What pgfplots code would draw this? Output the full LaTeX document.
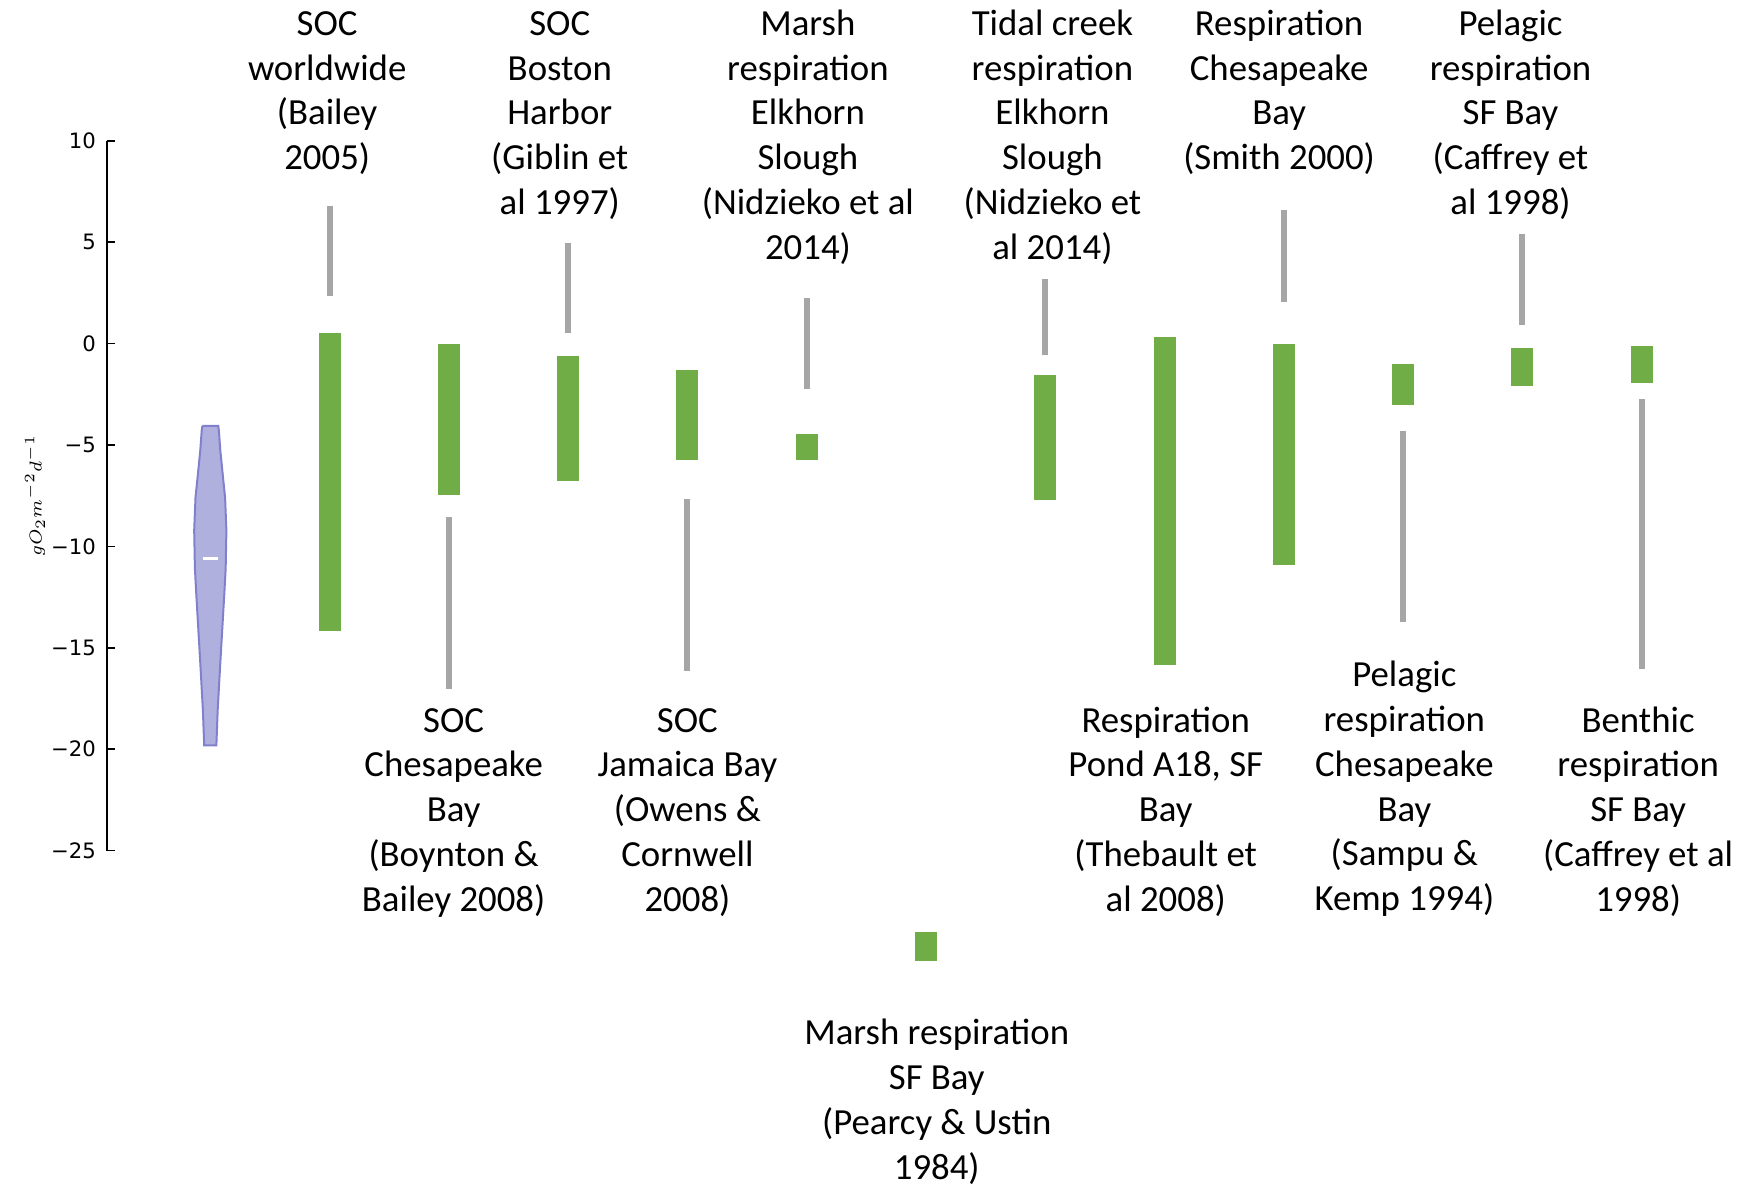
\documentclass[border=0pt]{standalone}
\usepackage{pgfplots}
\pgfplotsset{compat=1.18}
\usepackage{fontspec}
\setmainfont{Carlito}
\newfontfamily\tickfont{DejaVu Sans}
\definecolor{barg}{HTML}{70AD47}
\definecolor{lineg}{HTML}{A6A6A6}
\definecolor{vfill}{RGB}{176,176,222}
\definecolor{vedge}{RGB}{128,128,204}
\begin{document}
\begin{tikzpicture}[lbl/.style={anchor=north, align=center, inner sep=0pt, font=\fontsize{9.2}{11.2}\selectfont}]
\begin{axis}[
  x=29.82pt, y=5.07pt,
  xmin=-0.868, xmax=12.5, ymin=-25, ymax=10,
  axis x line=none, axis y line*=left,
  axis line style={-, line width=0.5pt, black},
  ytick={-25,-20,...,10},
  yticklabels={−25,−20,−15,−10,−5,0,5,10},
  tick align=inside, major tick length=2pt,
  tick style={black, line width=0.4pt},
  yticklabel style={font=\tickfont\fontsize{5.3}{6.3}\selectfont, anchor=east, inner sep=0pt, xshift=-2.5pt},
  clip=false,
]
% violin
\addplot[fill=vfill, draw=vedge, line width=0.5pt] coordinates {
(-0.067,-4.06) (0.067,-4.06) (0.072,-4.3) (0.084,-5.27) (0.105,-6.5) (0.124,-7.59)
(0.135,-9.22) (0.129,-11.08) (0.118,-12.3) (0.107,-13.41) (0.084,-15.74) (0.062,-18.07) (0.051,-19.81)
(-0.051,-19.81) (-0.062,-18.07) (-0.084,-15.74) (-0.107,-13.41) (-0.118,-12.3) (-0.129,-11.08)
(-0.135,-9.22) (-0.124,-7.59) (-0.105,-6.5) (-0.084,-5.27) (-0.072,-4.3) (-0.067,-4.06)
};
\addplot[white, line width=0.6pt] coordinates {(-0.064,-10.6) (0.064,-10.6)};
% gray ranges
\addplot[lineg, line width=1.5pt, unbounded coords=jump] coordinates {
(1,6.80) (1,2.36) (1,nan)
(2,-8.56) (2,-17.04) (2,nan)
(3,4.97) (3,0.53) (3,nan)
(4,-7.67) (4,-16.15) (4,nan)
(5,2.25) (5,-2.24) (5,nan)
(7,3.19) (7,-0.58) (7,nan)
(9,6.57) (9,2.03) (9,nan)
(10,-4.29) (10,-13.71) (10,nan)
(11,5.41) (11,0.92) (11,nan)
(12,-2.74) (12,-16.04)
};
% green ranges
\addplot[barg, line width=5.5pt, unbounded coords=jump] coordinates {
(1,0.53) (1,-14.16) (1,nan)
(2,0.0) (2,-7.45) (2,nan)
(3,-0.63) (3,-6.78) (3,nan)
(4,-1.30) (4,-5.73) (4,nan)
(5,-4.46) (5,-5.73) (5,nan)
(6,-29.0) (6,-30.46) (6,nan)
(7,-1.57) (7,-7.73) (7,nan)
(8,0.31) (8,-15.87) (8,nan)
(9,0.0) (9,-10.9) (9,nan)
(10,-1.02) (10,-3.01) (10,nan)
(11,-0.24) (11,-2.07) (11,nan)
(12,-0.13) (12,-1.96)
};
% y label
\node[rotate=90, scale=0.72, font=\fontsize{5.6}{6.7}\selectfont] at (axis cs:-1.47,-7.5) {$gO_2m^{-2}d^{-1}$};
% top labels
\node[lbl] at (axis cs:0.98,16.79) {\strut SOC\\worldwide\\(Bailey\\2005)};
\node[lbl] at (axis cs:2.93,16.79) {\strut SOC\\Boston\\Harbor\\(Giblin et\\al 1997)};
\node[lbl] at (axis cs:5.01,16.79) {\strut Marsh\\respiration\\Elkhorn\\Slough\\(Nidzieko et al\\2014)};
\node[lbl] at (axis cs:7.06,16.79) {\strut Tidal creek\\respiration\\Elkhorn\\Slough\\(Nidzieko et\\al 2014)};
\node[lbl] at (axis cs:8.96,16.79) {\strut Respiration\\Chesapeake\\Bay\\(Smith 2000)};
\node[lbl] at (axis cs:10.90,16.79) {\strut Pelagic\\respiration\\SF Bay\\(Caffrey et\\al 1998)};
% bottom labels
\node[lbl] at (axis cs:2.04,-17.57) {\strut SOC\\Chesapeake\\Bay\\(Boynton \&\\Bailey 2008)};
\node[lbl] at (axis cs:4.00,-17.57) {\strut SOC\\Jamaica Bay\\(Owens \&\\Cornwell\\2008)};
\node[lbl] at (axis cs:6.09,-33.0) {\strut Marsh respiration\\SF Bay\\(Pearcy \& Ustin\\1984)};
\node[lbl] at (axis cs:8.01,-17.57) {\strut Respiration\\Pond A18, SF\\Bay\\(Thebault et\\al 2008)};
\node[lbl] at (axis cs:10.01,-15.33) {\strut Pelagic\\respiration\\Chesapeake\\Bay\\(Sampu \&\\Kemp 1994)};
\node[lbl] at (axis cs:11.97,-17.57) {\strut Benthic\\respiration\\SF Bay\\(Caffrey et al\\1998)};
% page extent
\path (axis cs:-1.763,16.94) rectangle (axis cs:13.017,-41.44);
\end{axis}
\end{tikzpicture}
\end{document}
